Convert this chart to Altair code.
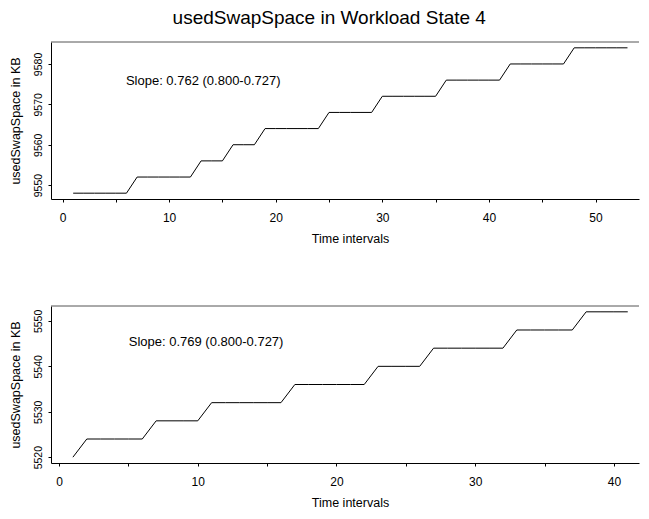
import altair as alt
import pandas as pd

FONT = "Liberation Sans"

# ---- data ----
top_t = [1, 2, 3, 4, 5, 6, 7, 8, 9, 10, 11, 12, 13, 14, 15, 16, 17, 18, 19, 20,
         21, 22, 23, 24, 25, 26, 27, 28, 29, 30, 31, 32, 33, 34, 35, 36, 37, 38,
         39, 40, 41, 42, 43, 44, 45, 46, 47, 48, 49, 50, 51, 52, 53]
top_kb = [9548, 9548, 9548, 9548, 9548, 9548,
          9552, 9552, 9552, 9552, 9552, 9552,
          9556, 9556, 9556,
          9560, 9560, 9560,
          9564, 9564, 9564, 9564, 9564, 9564,
          9568, 9568, 9568, 9568, 9568,
          9572, 9572, 9572, 9572, 9572, 9572,
          9576, 9576, 9576, 9576, 9576, 9576,
          9580, 9580, 9580, 9580, 9580, 9580,
          9584, 9584, 9584, 9584, 9584, 9584]

bot_t = [1, 2, 3, 4, 5, 6, 7, 8, 9, 10, 11, 12, 13, 14, 15, 16, 17, 18, 19, 20,
         21, 22, 23, 24, 25, 26, 27, 28, 29, 30, 31, 32, 33, 34, 35, 36, 37, 38,
         39, 40, 41]
bot_kb = [5520,
          5524, 5524, 5524, 5524, 5524,
          5528, 5528, 5528, 5528,
          5532, 5532, 5532, 5532, 5532, 5532,
          5536, 5536, 5536, 5536, 5536, 5536,
          5540, 5540, 5540, 5540,
          5544, 5544, 5544, 5544, 5544, 5544,
          5548, 5548, 5548, 5548, 5548,
          5552, 5552, 5552, 5552]

top_note = "Slope: 0.762 (0.800-0.727)"
top_note_xy = [13.2, 9575.8]
bot_note = "Slope: 0.769 (0.800-0.727)"
bot_note_xy = [10.6, 5545.3]

top_xticks = [0, 5, 10, 15, 20, 25, 30, 35, 40, 45, 50]
top_yticks = [9550, 9560, 9570, 9580]
bot_xticks = [0, 5, 10, 15, 20, 25, 30, 35, 40]
bot_yticks = [5520, 5525, 5530, 5535, 5540, 5545, 5550]

top_xdom = [-1.08, 54.08]
top_ydom = [9546.56, 9585.44]
bot_xdom = [-0.58, 41.81]
bot_ydom = [5518.72, 5553.28]

W, H = 588, 157


def panel(ts, vs, note, note_xy, xdom, ydom, xticks, yticks):
    df = pd.DataFrame({"t": ts, "v": vs})
    xenc = alt.X(
        "t:Q",
        scale=alt.Scale(domain=xdom, nice=False, zero=False),
        axis=alt.Axis(
            values=xticks,
            format="d",
            labelExpr="datum.value % 10 == 0 ? datum.label : ''",
            title="Time intervals",
            titleX=299,
            titleAnchor="middle",
            grid=False,
            tickSize=3,
            labelPadding=10.5,
            labelFontSize=12,
            titleFontSize=12.5,
            titlePadding=9,
            labelFlush=False,
        ),
    )
    yenc = alt.Y(
        "v:Q",
        scale=alt.Scale(domain=ydom, nice=False, zero=False),
        axis=alt.Axis(
            values=yticks,
            format="d",
            labelExpr="datum.value % 10 == 0 ? datum.label : ''",
            title="usedSwapSpace in KB",
            grid=False,
            tickSize=3,
            labelAngle=-90,
            labelPadding=5,
            labelFontSize=10.5,
            titleFontSize=12.5,
            titlePadding=11,
            labelFlush=False,
        ),
    )
    line = alt.Chart(df).mark_line(color="black", strokeWidth=1).encode(x=xenc, y=yenc)
    ndf = pd.DataFrame({"x": [note_xy[0]], "y": [note_xy[1]], "label": [note]})
    text = alt.Chart(ndf).mark_text(
        font=FONT, fontSize=13, align="center", baseline="middle", color="black"
    ).encode(x="x:Q", y="y:Q", text="label:N")
    top_rule = alt.Chart(ndf).mark_rule(color="#555555", strokeWidth=1).encode(
        x=alt.value(0), x2=alt.value(W), y=alt.value(0)
    )
    return alt.layer(line, text, top_rule).properties(width=W, height=H)


p1 = panel(top_t, top_kb, top_note, top_note_xy, top_xdom, top_ydom, top_xticks, top_yticks)
p2 = panel(bot_t, bot_kb, bot_note, bot_note_xy, bot_xdom, bot_ydom, bot_xticks, bot_yticks)

chart = alt.vconcat(p1, p2, spacing=107, bounds="flush").properties(
    title=alt.TitleParams(
        "usedSwapSpace in Workload State 4",
        font=FONT,
        fontSize=19,
        fontWeight="normal",
        color="black",
        anchor="middle",
        dx=5,
        offset=14,
    ),
    padding={"left": 0, "top": 0, "right": 0, "bottom": 0},
).configure_view(stroke=None).configure_axis(
    labelFont=FONT,
    titleFont=FONT,
    labelColor="black",
    titleColor="black",
    titleFontWeight="normal",
    domainColor="black",
    tickColor="black",
    domainWidth=1,
    tickWidth=1,
)

chart.save("out.html", embed_options={"renderer": "svg", "actions": False})
